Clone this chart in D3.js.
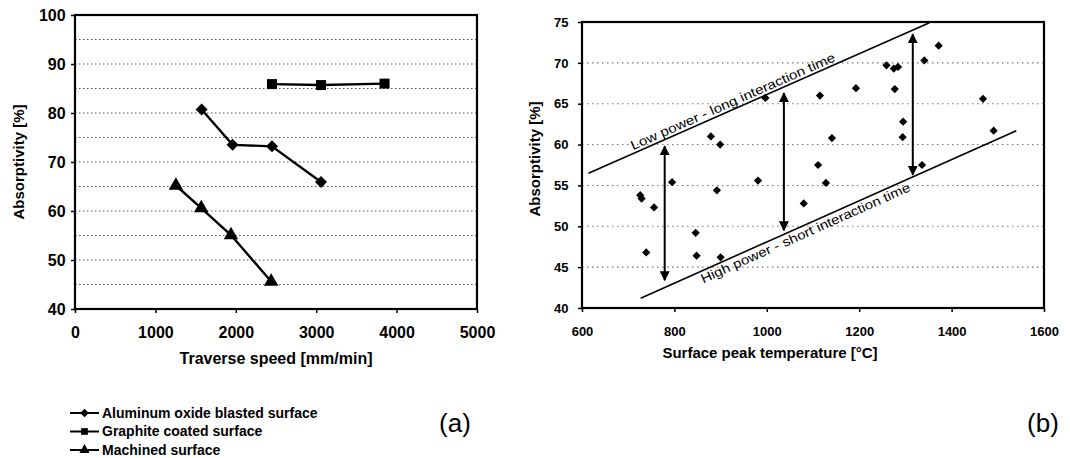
<!DOCTYPE html>
<html><head><meta charset="utf-8">
<script src="https://cdn.jsdelivr.net/npm/d3@7"></script>
<style>body{margin:0;background:#fff}svg{display:block}</style>
</head><body><svg id="c" width="1070" height="458"></svg>
<script>
// ---------- data: chart (a) ----------
const speedTicks = [0, 1000, 2000, 3000, 4000, 5000];
const absorbTicksA = [40, 50, 60, 70, 80, 90, 100];
const gridA = [45, 50, 55, 60, 65, 70, 75, 80, 85, 90, 95];
const aluSpeed = [1575, 1960, 2450, 3060];
const aluAbs = [80.7, 73.5, 73.2, 65.9];
const graSpeed = [2450, 3060, 3850];
const graAbs = [85.9, 85.7, 86.0];
const macSpeed = [1255, 1570, 1940, 2440];
const macAbs = [65.2, 60.6, 55.1, 45.6];
const legendLabels = ["Aluminum oxide blasted surface", "Graphite coated surface", "Machined surface"];

// ---------- data: chart (b) ----------
const tempTicks = [600, 800, 1000, 1200, 1400, 1600];
const absorbTicksB = [40, 45, 50, 55, 60, 65, 70, 75];
const gridB = [45, 50, 55, 60, 65, 70];
const scatterTemp = [726, 729, 756, 739, 795, 846, 848, 879, 892, 899, 900, 981, 997, 1080, 1111, 1115, 1128, 1141, 1193, 1259, 1275, 1284, 1277, 1295, 1294, 1336, 1341, 1372, 1468, 1491];
const scatterAbs  = [53.8, 53.4, 52.3, 46.8, 55.4, 49.2, 46.4, 61.0, 54.4, 60.0, 46.2, 55.6, 65.7, 52.8, 57.5, 66.0, 55.3, 60.8, 66.9, 69.7, 69.3, 69.5, 66.8, 62.8, 60.9, 57.5, 70.3, 72.1, 65.6, 61.7];
const lowLineTemp = [614, 1352];
const lowLineAbs = [56.5, 74.9];
const highLineTemp = [727, 1540];
const highLineAbs = [41.2, 61.7];
const arrowTemp = [779, 1037, 1316];
const arrowLow = [43.4, 49.5, 56.3];
const arrowHigh = [59.8, 66.3, 73.5];
const lowLabel = "Low power - long interaction time";
const highLabel = "High power - short interaction time";

const svg = d3.select("#c");
const FONT = "'Liberation Sans', Arial, sans-serif";

// ---------- chart (a) ----------
const xA = d3.scaleLinear().domain([0, 5000]).range([75, 477]);
const yA = d3.scaleLinear().domain([40, 100]).range([309, 15]);
const gA = svg.append("g");

gA.selectAll("line.grid").data(gridA).enter().append("line")
  .attr("x1", xA(0)).attr("x2", xA(5000))
  .attr("y1", d => yA(d)).attr("y2", d => yA(d))
  .attr("stroke", "#555").attr("stroke-width", 1.2).attr("stroke-dasharray", "1.5,2.5");

const axA_x = gA.append("g").attr("transform", `translate(0,${yA(40)})`)
  .call(d3.axisBottom(xA).tickValues(speedTicks).tickSize(4).tickFormat(d3.format("d")));
const axA_y = gA.append("g").attr("transform", `translate(${xA(0)},0)`)
  .call(d3.axisLeft(yA).tickValues(absorbTicksA).tickSize(4));
[axA_x, axA_y].forEach(a => {
  a.select(".domain").remove();
  a.selectAll("line").attr("stroke", "#000").attr("stroke-width", 1.5);
  a.selectAll("text").attr("font-family", FONT).attr("font-weight", "bold").attr("font-size", 16).attr("fill", "#000");
});
axA_x.selectAll("text").attr("dy", "1.4em");
axA_y.selectAll("text").attr("dx", "-0.15em");

gA.append("rect").attr("x", xA(0)).attr("y", yA(100))
  .attr("width", xA(5000) - xA(0)).attr("height", yA(40) - yA(100))
  .attr("fill", "none").attr("stroke", "#000").attr("stroke-width", 2.2);

const lineA = d3.line().x(d => xA(d[0])).y(d => yA(d[1]));
const seriesA = [
  {sx: aluSpeed, sy: aluAbs, sym: "diamond"},
  {sx: graSpeed, sy: graAbs, sym: "square"},
  {sx: macSpeed, sy: macAbs, sym: "triangle"}
];
const symPath = {
  diamond: d3.symbol().type(d3.symbolSquare).size(72)(),
  square: d3.symbol().type(d3.symbolSquare).size(100)(),
  triangle: d3.symbol().type(d3.symbolTriangle).size(90)()
};
const symRot = {diamond: 45, square: 0, triangle: 0};
seriesA.forEach(s => {
  const pts = s.sx.map((v, i) => [v, s.sy[i]]);
  gA.append("path").attr("d", lineA(pts)).attr("fill", "none").attr("stroke", "#000").attr("stroke-width", 2.4);
  gA.selectAll(null).data(pts).enter().append("path")
    .attr("d", symPath[s.sym])
    .attr("transform", d => `translate(${xA(d[0])},${yA(d[1])}) rotate(${symRot[s.sym]})`)
    .attr("fill", "#000");
});

gA.append("text").attr("x", (xA(0) + xA(5000)) / 2).attr("y", 364)
  .attr("text-anchor", "middle").attr("font-family", FONT).attr("font-weight", "bold").attr("font-size", 16)
  .text("Traverse speed [mm/min]");
gA.append("text").attr("transform", `translate(24,${(yA(40) + yA(100)) / 2}) rotate(-90)`)
  .attr("text-anchor", "middle").attr("font-family", FONT).attr("font-weight", "bold").attr("font-size", 15)
  .text("Absorptivity [%]");

// legend
const leg = gA.append("g");
legendLabels.forEach((lab, i) => {
  const y = 413 + i * 18.5;
  leg.append("line").attr("x1", 70).attr("x2", 99).attr("y1", y).attr("y2", y).attr("stroke", "#000").attr("stroke-width", 2);
  const s = seriesA[i].sym;
  leg.append("path").attr("d", d3.symbol().type(s === "triangle" ? d3.symbolTriangle : d3.symbolSquare).size(s === "diamond" ? 36 : 45)())
    .attr("transform", `translate(84.5,${y}) rotate(${symRot[s]})`).attr("fill", "#000");
  leg.append("text").attr("x", 102).attr("y", y).attr("dy", "0.35em")
    .attr("font-family", FONT).attr("font-weight", "bold").attr("font-size", 14).text(lab);
});
svg.append("text").attr("x", 455).attr("y", 432).attr("text-anchor", "middle")
  .attr("font-family", FONT).attr("font-size", 26).text("(a)");

// ---------- chart (b) ----------
const xB = d3.scaleLinear().domain([600, 1600]).range([582, 1044]);
const yB = d3.scaleLinear().domain([40, 75]).range([308, 22]);
const gB = svg.append("g");

gB.selectAll("line.grid").data(gridB).enter().append("line")
  .attr("x1", xB(600)).attr("x2", xB(1600))
  .attr("y1", d => yB(d)).attr("y2", d => yB(d))
  .attr("stroke", "#777").attr("stroke-width", 1.1).attr("stroke-dasharray", "1.5,3.5");

const axB_x = gB.append("g").attr("transform", `translate(0,${yB(40)})`)
  .call(d3.axisBottom(xB).tickValues(tempTicks).tickSize(4).tickFormat(d3.format("d")));
const axB_y = gB.append("g").attr("transform", `translate(${xB(600)},0)`)
  .call(d3.axisLeft(yB).tickValues(absorbTicksB).tickSize(4));
[axB_x, axB_y].forEach(a => {
  a.select(".domain").remove();
  a.selectAll("line").attr("stroke", "#000").attr("stroke-width", 1.5);
  a.selectAll("text").attr("font-family", FONT).attr("font-weight", "bold").attr("font-size", 13).attr("fill", "#000");
});
axB_x.selectAll("text").attr("dy", "1.65em");
axB_y.selectAll("text").attr("dx", "-0.5em");

gB.append("rect").attr("x", xB(600)).attr("y", yB(75))
  .attr("width", xB(1600) - xB(600)).attr("height", yB(40) - yB(75))
  .attr("fill", "none").attr("stroke", "#000").attr("stroke-width", 2.2);

// trend lines
const lineB = d3.line().x(d => xB(d[0])).y(d => yB(d[1]));
const lowPts = lowLineTemp.map((t, i) => [t, lowLineAbs[i]]);
const highPts = highLineTemp.map((t, i) => [t, highLineAbs[i]]);
gB.append("path").attr("d", lineB(lowPts)).attr("stroke", "#000").attr("stroke-width", 1.6).attr("fill", "none");
gB.append("path").attr("d", lineB(highPts)).attr("stroke", "#000").attr("stroke-width", 1.6).attr("fill", "none");

// arrows
const defs = svg.append("defs");
defs.append("marker").attr("id", "ah").attr("viewBox", "0 0 10 10").attr("refX", 9).attr("refY", 5)
  .attr("markerWidth", 5).attr("markerHeight", 5).attr("orient", "auto-start-reverse")
  .append("path").attr("d", "M0,0 L10,5 L0,10 z").attr("fill", "#000");
arrowTemp.forEach((t, i) => {
  gB.append("line").attr("x1", xB(t)).attr("x2", xB(t))
    .attr("y1", yB(arrowLow[i])).attr("y2", yB(arrowHigh[i]))
    .attr("stroke", "#000").attr("stroke-width", 2)
    .attr("marker-start", "url(#ah)").attr("marker-end", "url(#ah)");
});

// scatter
const diamondB = d3.symbol().type(d3.symbolSquare).size(34)();
gB.selectAll(null).data(scatterTemp.map((t, i) => [t, scatterAbs[i]])).enter().append("path")
  .attr("d", diamondB)
  .attr("transform", d => `translate(${xB(d[0])},${yB(d[1])}) rotate(45)`)
  .attr("fill", "#000");

// rotated labels
function lineLabel(pts, t, txt, dy, len) {
  const x0 = xB(pts[0][0]), y0 = yB(pts[0][1]), x1 = xB(pts[1][0]), y1 = yB(pts[1][1]);
  const ang = Math.atan2(y1 - y0, x1 - x0) * 180 / Math.PI;
  const v = pts[0][1] + (t - pts[0][0]) * (pts[1][1] - pts[0][1]) / (pts[1][0] - pts[0][0]);
  gB.append("text").attr("transform", `translate(${xB(t)},${yB(v)}) rotate(${ang})`)
    .attr("text-anchor", "middle").attr("dy", dy)
    .attr("font-family", FONT).attr("font-size", 13)
    .attr("textLength", len).attr("lengthAdjust", "spacingAndGlyphs")
    .text(txt);
}
lineLabel(lowPts, 933, lowLabel, -3, 222);
lineLabel(highPts, 1077, highLabel, 12, 228);

gB.append("text").attr("x", 770).attr("y", 358)
  .attr("text-anchor", "middle").attr("font-family", FONT).attr("font-weight", "bold").attr("font-size", 15)
  .text("Surface peak temperature [°C]");
gB.append("text").attr("transform", `translate(540,${(yB(40) + yB(75)) / 2 - 6}) rotate(-90)`)
  .attr("text-anchor", "middle").attr("font-family", FONT).attr("font-weight", "bold").attr("font-size", 15)
  .text("Absorptivity [%]");

svg.append("text").attr("x", 1043).attr("y", 432).attr("text-anchor", "middle")
  .attr("font-family", FONT).attr("font-size", 26).text("(b)");
</script></body></html>
